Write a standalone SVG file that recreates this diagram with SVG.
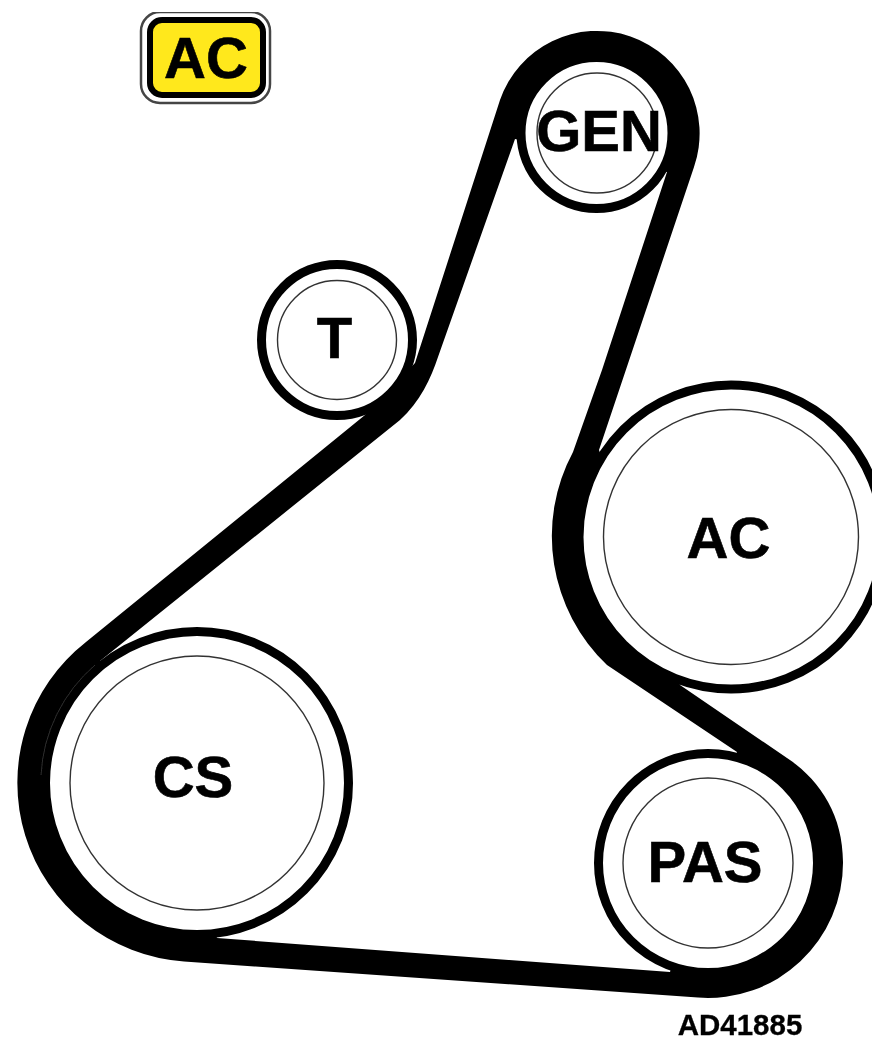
<svg xmlns="http://www.w3.org/2000/svg" width="872" height="1041" viewBox="0 0 872 1041">
<style>
text{font-family:"Liberation Sans",Arial,sans-serif;font-weight:700;fill:#000;text-anchor:middle}
.lbl{font-size:58px;stroke:#000;stroke-width:0.6}
.ring{fill:#fff;stroke:#000;stroke-width:9}
.hub{fill:none;stroke:#333;stroke-width:1.4}
</style>
<defs><filter id="soft" x="0" y="0" width="100%" height="100%" filterUnits="objectBoundingBox"><feGaussianBlur stdDeviation="0.5"/></filter></defs>
<rect id="background" width="872" height="1041" fill="#fff"/>
<g filter="url(#soft)">
<g id="connectors">
<path id="belt" fill="#000" fill-rule="evenodd" d="M500,100 A102.5,102.5 0 0 1 694,167 L599,450 L680,685 L787,758 C820,780 843,815 843,862 A135,135 0 0 1 698,997.6 L184,961.5 A179,179 0 0 1 86,642 L365,415 L415,363 Z M515,139 L438,357 C431,378 420,402 400,420 L100,661 L217,938 L670,972 L737,752 L607,665 A178,178 0 0 1 573,452 L602,370 L667,172 Z"/>
</g>
<g id="node-gen"><circle class="ring" cx="596.5" cy="133" r="75.5"/><circle class="hub" cx="597" cy="133" r="60"/><text class="lbl" x="599" y="151">GEN</text></g>
<g id="node-t"><circle class="ring" cx="337" cy="340" r="75.5"/><circle class="hub" cx="337" cy="340" r="59.5"/><text class="lbl" x="334.500" y="358">T</text></g>
<g id="node-ac"><circle class="ring" cx="731" cy="537" r="152"/><circle class="hub" cx="731" cy="537" r="127.5"/><text class="lbl" x="728.500" y="558">AC</text></g>
<g id="node-pas"><circle class="ring" cx="708" cy="863" r="109.500"/><circle class="hub" cx="708" cy="863" r="85"/><text class="lbl" x="705" y="882">PAS</text></g>
<g id="node-cs"><circle class="ring" cx="197" cy="783" r="151.500"/><circle class="hub" cx="197" cy="783" r="127"/><text class="lbl" x="193" y="797">CS</text></g>
<path id="seam" d="M41,775 A156,156 0 0 1 95,665" fill="none" stroke="#444" stroke-width="0.7"/>
<g id="badge">
<rect x="141" y="12" width="129" height="91" rx="19" fill="#fff" stroke="#444" stroke-width="2.500"/>
<rect x="150" y="20" width="113" height="75" rx="12" fill="#FFE81E" stroke="#000" stroke-width="6"/>
<text class="lbl" x="206" y="78">AC</text>
</g>
<text id="ref" x="740" y="1035" font-size="29.500" stroke="#000" stroke-width="0.3">AD41885</text>
</g>
</svg>
